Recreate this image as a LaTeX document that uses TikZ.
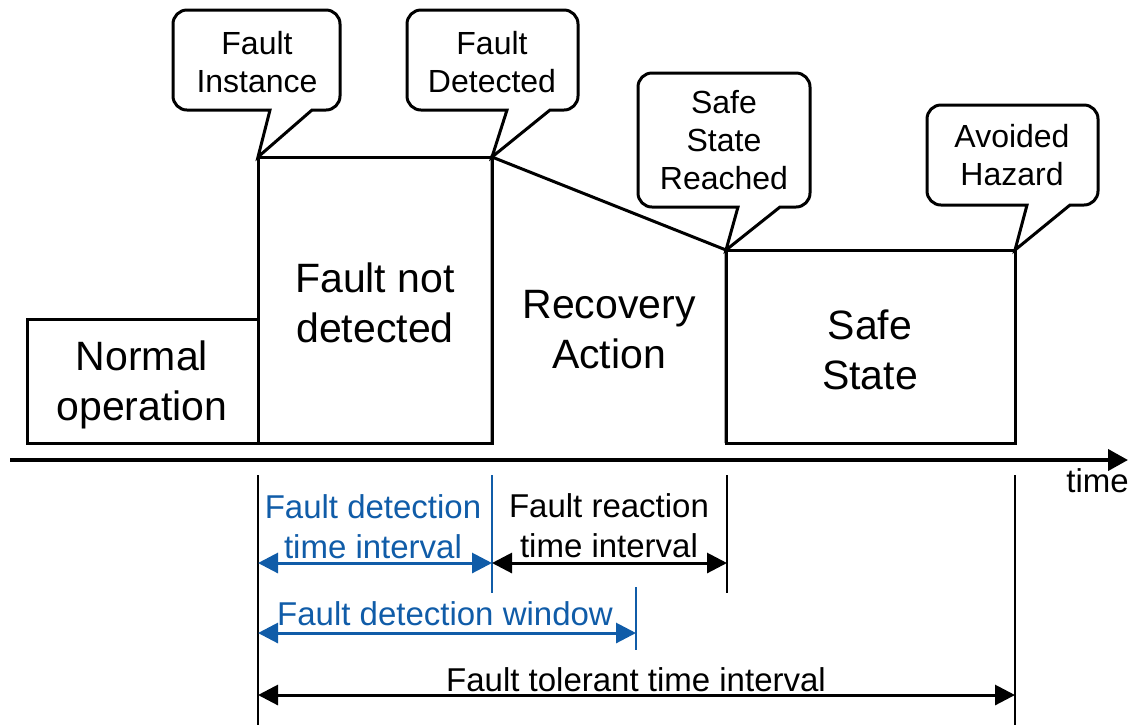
\documentclass[tikz,border=0pt]{standalone}
\usepackage{fontspec}
\setmainfont{Liberation Sans}
\usetikzlibrary{arrows.meta}
\definecolor{ivblue}{RGB}{16,92,168}
\tikzset{
  phase/.style={draw=black, line width=1.5pt, line join=miter},
  phasetext/.style={align=center, font=\fontsize{20.5}{25}\selectfont},
  balloon/.style={draw=black, line width=1.5pt, fill=white, line join=miter},
  balloontext/.style={align=center, font=\fontsize{16}{19}\selectfont},
  marker/.style={line width=0.75pt},
  span/.style={line width=1.5pt, {Triangle[length=10pt,width=10pt]}-{Triangle[length=10pt,width=10pt]}},
  spantext/.style={align=center, font=\fontsize{16.5}{20}\selectfont},
}
% speech balloon: #1 left, #2 top, #3 right, #4 bottom,
% #5/#6 x of the tail base, #7 point the tail touches
\newcommand{\drawballoon}[7]{%
  \draw[balloon] (#5,#4) -- (#7) -- (#6,#4) -- ({#3-14},#4)
    arc[start angle=90, end angle=0, radius=14] -- (#3,{#2+14})
    arc[start angle=0, end angle=-90, radius=14] -- ({#1+14},#2)
    arc[start angle=-90, end angle=-180, radius=14] -- (#1,{#4-14})
    arc[start angle=180, end angle=90, radius=14] -- cycle;}
\begin{document}
\begin{tikzpicture}[x=0.5pt, y=-0.5pt]
\useasboundingbox (0,0) rectangle (1128,725);

% instants on the time line
\coordinate (t0) at (27,443);
\coordinate (t1) at (258,443);
\coordinate (t2) at (492,443);
\coordinate (t3) at (726,443);
\coordinate (t4) at (1015,443);
% top corners of the phase blocks
\coordinate (p1) at (258,157);
\coordinate (p2) at (492,157);
\coordinate (p3) at (726,250);
\coordinate (p4) at (1015,250);

% phase blocks
\draw[phase] (t0) rectangle (258,319);
\draw[phase] (t1) rectangle (p2);
\draw[phase] (t2) -- (p2) -- (p3) -- (t3);
\draw[phase] (t3) rectangle (p4);

\node[phasetext] (normal) at (142,385) {Normal\\operation};
\node[phasetext] (notdet) at (375,303) {Fault not\\detected};
\node[phasetext] (recov) at (609,330) {Recovery\\Action};
\node[phasetext] (safe) at (870,350) {Safe\\State};

% time axis
\coordinate (axs) at (10,460);
\coordinate (axe) at (1128,460);
\draw[line width=2pt, -{Triangle[length=10pt,width=10.5pt]}] (axs) -- (axe);
\node[anchor=base west, inner sep=0pt, font=\fontsize{16.5}{20}\selectfont] (time) at (1066,492) {time};

% event balloons
\drawballoon{173}{10}{340}{110}{270}{312}{p1}
\node[balloontext] (binst) at (257,62) {Fault\\Instance};

\drawballoon{407}{10}{578}{110}{507}{550}{p2}
\node[balloontext] (bdet) at (492,62) {Fault\\Detected};

\drawballoon{638}{73}{810}{207}{738}{780}{p3}
\node[balloontext] (bsafe) at (724,140) {Safe\\State\\Reached};

\drawballoon{927}{105}{1098}{205}{1027}{1070}{p4}
\node[balloontext] (bhaz) at (1012,155) {Avoided\\Hazard};

% interval markers
\coordinate (m0a) at (258,475); \coordinate (m0b) at (258,725);
\coordinate (m1a) at (492,475); \coordinate (m1b) at (492,593);
\coordinate (m2a) at (727,475); \coordinate (m2b) at (727,593);
\coordinate (m3a) at (636,587); \coordinate (m3b) at (636,650);
\coordinate (m4a) at (1015,475); \coordinate (m4b) at (1015,725);
\draw[marker] (m0a) -- (m0b);
\draw[marker, ivblue] (m1a) -- (m1b);
\draw[marker] (m2a) -- (m2b);
\draw[marker, ivblue] (m3a) -- (m3b);
\draw[marker] (m4a) -- (m4b);

% intervals
\draw[span, ivblue] (m0a |- 0,563) -- (m1a |- 0,563);
\draw[span] (m1a |- 0,563) -- (m2a |- 0,563);
\draw[span, ivblue] (m0a |- 0,633) -- (m3a |- 0,633);
\draw[span] (m0a |- 0,695) -- (m4a |- 0,695);

\node[spantext, text=ivblue] (fdti) at (373,527) {Fault detection\\time interval};
\node[spantext] (frti) at (609,526) {Fault reaction\\time interval};
\node[spantext, text=ivblue] (fdw) at (445,614) {Fault detection window};
\node[spantext] (ftti) at (636,680) {Fault tolerant time interval};
\end{tikzpicture}
\end{document}
